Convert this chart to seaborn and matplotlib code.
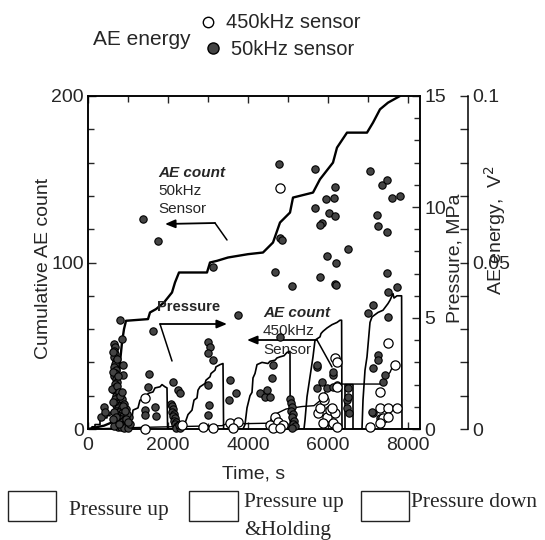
import numpy as np
import pandas as pd
import matplotlib
matplotlib.use("Agg")
import matplotlib.pyplot as plt
from matplotlib.lines import Line2D
from matplotlib.patches import Rectangle
from matplotlib.ticker import MultipleLocator, FixedLocator, FixedFormatter
import seaborn as sns

# ---------------- data ----------------
# Pressure (MPa) vs time (s)
pressure_t = [0, 100, 100, 175, 175, 300, 300, 375, 375, 475, 475, 550, 550, 675, 725,
              975, 1100, 1125, 1250, 1300, 1475, 1500, 1625, 1675, 1800, 1850, 1925, 1975, 1990,
              2375, 2500, 2600, 2650, 2725, 2750, 2800, 2925, 2950, 3050, 3075, 3175, 3200, 3300, 3375, 3390,
              3875, 3925, 3975, 4050, 4100, 4125, 4175, 4225, 4350, 4500, 4550, 4675, 4725, 4800, 4900, 4975, 5050, 5055,
              5400, 5425, 5475, 5550, 5625, 5675, 5800, 5825, 5875, 5975, 6100, 6225, 6300, 6340, 6350,
              6425, 6425, 6625, 6625,
              6850, 6875, 6925, 6975, 7050, 7100, 7250, 7375, 7500, 7550, 7625, 7650, 7725, 7800, 7840, 7850, 8300]
pressure_p = [0, 0, 0.1, 0.1, 0.2, 0.2, 0.4, 0.4, 0.5, 0.5, 0.6, 0.6, 0.75, 0.75, 0,
              0, 0.5, 0.85, 0.95, 1.3, 1.4, 1.6, 1.67, 1.85, 1.9, 2.0, 1.9, 1.85, 0,
              0, 0.65, 0.85, 1.3, 1.4, 1.75, 1.9, 2.05, 2.2, 2.35, 2.5, 2.65, 2.8, 2.9, 2.95, 0,
              0, 0.2, 0.95, 1.5, 1.65, 2.3, 2.5, 2.9, 3.0, 2.95, 3.05, 3.1, 3.2, 3.25, 3.3, 3.45, 3.5, 0,
              0, 0.4, 1.45, 2.35, 3.25, 4.0, 4.15, 4.3, 4.4, 4.55, 4.7, 4.8, 4.9, 4.9, 0,
              0, 2.0, 2.0, 0,
              0, 1.3, 2.65, 3.25, 4.8, 5.05, 5.25, 5.35, 5.65, 5.8, 6.1, 5.9, 6.0, 6.0, 6.0, 0, 0]

# Cumulative AE count, 50 kHz sensor
count50_t = [0, 200, 400, 600, 700, 750, 800, 850, 900, 950, 1500, 1550, 1700, 1900, 2100, 2175, 2225,
             2275, 2975, 3050, 3225, 3500, 4000, 4375, 4625, 4800, 5050, 5125, 5625, 5800, 6125,
             6225, 6475, 6975, 7125, 7300, 7500, 7800]
count50_n = [0, 1, 2, 4, 10, 25, 40, 52, 60, 65, 66, 70, 72, 76, 82, 88, 91,
             94, 94, 100, 101, 103, 105, 106, 112, 124, 130, 139, 142, 150, 160,
             169, 178, 178, 184, 192, 196, 200]

# Cumulative AE count, 450 kHz sensor
count450_t = [0, 1400, 3350, 3450, 4550, 4600, 4950, 5350, 5650, 5800, 5950, 6100, 6350,
              7300, 7400, 7550, 7650, 7750]
count450_n = [0, 1, 2, 3, 3.5, 8, 12, 13.5, 14, 17, 23, 25, 27,
              27, 30, 34, 39.5, 40]

# AE energy (V^2), 50 kHz sensor
e50_t = [4775, 5675, 6175, 5950, 6150, 5675, 6025, 6175, 5850, 5800, 7050, 7350, 7475, 7600, 7800,
         7225, 7250, 7475, 6500, 5975, 6200, 6175, 1375, 1750, 4800, 4850, 3125, 4675, 5800, 5100,
         6200, 7475, 7500, 7725, 7125, 7000, 7500, 3750, 800, 850, 1625, 3000, 3050, 3000, 3125,
         875, 875, 1525, 1500, 1425, 1425, 1675, 1700, 2125, 2250, 2300, 3000, 3025, 3000, 3550,
         3700, 3525, 4625, 4600, 4300, 4425, 4550, 4475, 4800, 5725, 6125, 5725, 5975, 6125, 6225,
         6475, 6475, 7125, 7375, 7425, 7250, 7250, 7125, 7300, 7100, 7300, 400, 325, 425,
         5725, 5850, 6125, 6500, 6500, 6525,
         650, 675, 650, 675, 650, 700, 675, 650, 700, 675, 650, 700, 725, 675, 700, 650, 725, 700,
         750, 675, 725, 775, 700, 800, 750, 825, 700, 775, 850, 725, 800, 875, 750, 825, 900, 700,
         775, 850, 925, 725, 800, 875, 950, 750, 825, 900, 1000, 650,
         625, 725, 625, 750, 600, 725, 625, 775, 650, 850, 900, 950, 1025, 975, 1050, 875, 800, 950,
         925, 1000, 700, 625, 775, 850,
         2075, 2100, 2125, 2100, 2150, 2125, 2175, 2150, 2200, 2175, 2225, 2250, 2200, 2300, 2275,
         5050, 5075, 5100, 5075, 5125, 5100, 5150, 5125, 5175, 5100]
e50_v = [0.0796, 0.0781, 0.0727, 0.0691, 0.0694, 0.0664, 0.0649, 0.0640, 0.0619, 0.0613, 0.0775, 0.0733,
         0.0748, 0.0694, 0.0700, 0.0643, 0.0610, 0.0592, 0.0541, 0.0520, 0.0498, 0.0435, 0.0631, 0.0565,
         0.0574, 0.0568, 0.0486, 0.0471, 0.0456, 0.0429, 0.0432, 0.0468, 0.0411, 0.0426, 0.0372, 0.0348,
         0.0336, 0.0342, 0.0327, 0.0270, 0.0294, 0.0261, 0.0246, 0.0228, 0.0207, 0.0192, 0.0162, 0.0165,
         0.0126, 0.0057, 0.0042, 0.0066, 0.0039, 0.0141, 0.0117, 0.0108, 0.0132, 0.0072, 0.0042, 0.0147,
         0.0108, 0.0087, 0.0192, 0.0153, 0.0108, 0.0096, 0.0096, 0.0117, 0.0276, 0.0186, 0.0162, 0.0123,
         0.0123, 0.0126, 0.0132, 0.0087, 0.0063, 0.0048, 0.0141, 0.0162, 0.0222, 0.0207, 0.0183, 0.0111,
         0.0051, 0.0033, 0.0066, 0.0036, 0.0051,
         0.0192, 0.0141, 0.0171, 0.0123, 0.0096, 0.0048,
         0.0255, 0.0245, 0.0235, 0.0225, 0.0215, 0.0205, 0.0195, 0.0185, 0.0178, 0.0168, 0.0160, 0.0150,
         0.0142, 0.0135, 0.0125, 0.0118, 0.0110, 0.0100, 0.0095, 0.0090, 0.0082, 0.0078, 0.0072, 0.0068,
         0.0062, 0.0060, 0.0055, 0.0050, 0.0048, 0.0042, 0.0040, 0.0038, 0.0032, 0.0030, 0.0028, 0.0025,
         0.0022, 0.0020, 0.0018, 0.0015, 0.0012, 0.0010, 0.0010, 0.0006, 0.0005, 0.0004, 0.0003, 0.0008,
         0.0230, 0.0210, 0.0170, 0.0160, 0.0120, 0.0130, 0.0080, 0.0110, 0.0050, 0.0090, 0.0075, 0.0060,
         0.0035, 0.0045, 0.0015, 0.0070, 0.0100, 0.0030, 0.0055, 0.0020, 0.0035, 0.0030, 0.0015, 0.0110]

e50_v = e50_v + [0.0075, 0.0068, 0.0060, 0.0052, 0.0045, 0.0038, 0.0032, 0.0025, 0.0020, 0.0014, 0.0010,
                 0.0006, 0.0004, 0.0003, 0.0012,
                 0.0090, 0.0078, 0.0066, 0.0055, 0.0045, 0.0035, 0.0025, 0.0015, 0.0008, 0.0004]

# AE energy (V^2), 450 kHz sensor
e450_t = [4800, 1425, 1425, 2350, 3125, 2875, 3550, 3750, 3625, 4550, 4675, 4750, 4875, 4625, 4800,
          5750, 5800, 5975, 6050, 6175, 6125, 6225, 5875, 5900, 6100, 6175, 6225, 6225, 5875,
          7500, 7675, 7300, 7300, 7500, 7725, 7375, 7500, 7050, 7300]
e450_v = [0.0724, 0.0093, 0.0000, 0.0012, 0.0003, 0.0006, 0.0018, 0.0021, 0.0003, 0.0012, 0.0036,
          0.0021, 0.0012, 0.0003, 0.0003, 0.0048, 0.0063, 0.0036, 0.0057, 0.0048, 0.0018, 0.0006,
          0.0018, 0.0087, 0.0063, 0.0213, 0.0201, 0.0126, 0.0096,
          0.0258, 0.0192, 0.0111, 0.0063, 0.0063, 0.0063, 0.0033, 0.0036, 0.0006, 0.0018]

x_ticks = [0, 2000, 4000, 6000, 8000]
count_ticks = [0, 100, 200]
pressure_ticks = [0, 5, 10, 15]
energy_ticks = [0, 0.05, 0.1]
energy_ticklabels = ["0", "0.05", "0.1"]

# ---------------- style ----------------
sns.set_style("ticks")
plt.rcParams["font.family"] = ["Liberation Sans", "DejaVu Sans"]
plt.rcParams["axes.linewidth"] = 1.1

W, H = 545, 540
fig = plt.figure(figsize=(W / 100, H / 100), dpi=100)
L, R, T, B = 88, 420, 96, 429
ax = fig.add_axes([L / W, 1 - B / H, (R - L) / W, (B - T) / H])
ax2 = ax.twinx()
ax3 = ax.twinx()
ax.set_facecolor("white")
ax2.patch.set_visible(False)
ax3.patch.set_visible(False)

df_p = pd.DataFrame({"t": pressure_t, "p": pressure_p})
df_c50 = pd.DataFrame({"t": count50_t, "n": count50_n})
df_c450 = pd.DataFrame({"t": count450_t, "n": count450_n})
df_e50 = pd.DataFrame({"t": e50_t, "e": e50_v})
df_e450 = pd.DataFrame({"t": e450_t, "e": e450_v})

sns.lineplot(data=df_c50, x="t", y="n", ax=ax, color="black", lw=1.7,
             sort=False, estimator=None)
sns.lineplot(data=df_c450, x="t", y="n", ax=ax, color="black", lw=1.0,
             sort=False, estimator=None)
sns.lineplot(data=df_p, x="t", y="p", ax=ax2, color="black", lw=1.2,
             sort=False, estimator=None)
sns.scatterplot(data=df_e50, x="t", y="e", ax=ax3, color="#444444", edgecolor="black",
                linewidth=0.8, s=28, clip_on=False, zorder=3)
sns.scatterplot(data=df_e450, x="t", y="e", ax=ax3, color="white", edgecolor="black",
                linewidth=0.9, s=44, clip_on=False, zorder=4)

# ---------------- axes ----------------
TS = 14
ax.set_xlim(0, 8300)
ax.set_ylim(0, 200)
ax2.set_ylim(0, 15)
ax3.set_ylim(0, 0.1)

ax.xaxis.set_major_locator(FixedLocator(x_ticks))
ax.xaxis.set_minor_locator(MultipleLocator(1000))
ax.yaxis.set_major_locator(FixedLocator(count_ticks))
ax.yaxis.set_minor_locator(MultipleLocator(20))
ax.tick_params(axis="both", which="both", direction="in", top=True, right=False,
               labelsize=TS, pad=3, width=1.0)
ax.tick_params(axis="x", which="major", length=5, pad=6)
ax.tick_params(axis="x", which="minor", length=4)
ax.tick_params(axis="y", which="major", length=6)
ax.tick_params(axis="y", which="minor", length=4)

ax2.yaxis.set_major_locator(FixedLocator(pressure_ticks))
ax2.yaxis.set_minor_locator(MultipleLocator(1))
ax2.tick_params(axis="y", which="both", direction="in", labelsize=TS, pad=3, width=1.0)
ax2.tick_params(axis="y", which="major", length=6)
ax2.tick_params(axis="y", which="minor", length=4)

ax3.spines["right"].set_position(("axes", (468 - L) / (R - L)))
for s in ["left", "top", "bottom"]:
    ax3.spines[s].set_visible(False)
ax3.yaxis.set_major_locator(FixedLocator(energy_ticks))
ax3.yaxis.set_major_formatter(FixedFormatter(energy_ticklabels))
ax3.yaxis.set_minor_locator(MultipleLocator(0.01))
ax3.tick_params(axis="y", which="both", direction="in", labelsize=TS, pad=3, length=6, width=1.0)

for a in (ax, ax2, ax3):
    for s in a.spines.values():
        s.set_color("black")

ax.set_xlabel("Time, s", fontsize=14, labelpad=8)
ax.set_ylabel("Cumulative AE count", fontsize=14)
ax.yaxis.set_label_coords((52 - L) / (R - L), 0.483)
ax2.set_ylabel("Pressure, MPa", fontsize=14)
ax2.yaxis.set_label_coords((446 - L) / (R - L), 0.514)
ax3.set_ylabel("AE energy,  V$^2$", fontsize=14)
ax3.yaxis.set_label_coords((482 - L) / (R - L), 0.598)


def axc(px, py):
    return ((px - L) / (R - L), (B - py) / (B - T))


# ---------------- annotations ----------------
arrow_kw = dict(arrowstyle="-|>,head_length=0.6,head_width=0.25", color="black", lw=1.3,
                shrinkA=0, shrinkB=0)
line_kw = dict(arrowstyle="-", color="black", lw=1.1, shrinkA=0, shrinkB=0)

# AE count 50 kHz
ax.text(*axc(158, 173), "AE count", transform=ax.transAxes, fontsize=11,
        fontweight="bold", fontstyle="italic", ha="left", va="center")
ax.text(*axc(158, 191), "50kHz", transform=ax.transAxes, fontsize=11, ha="left", va="center")
ax.text(*axc(158, 209), "Sensor", transform=ax.transAxes, fontsize=11, ha="left", va="center")
ax.annotate("", xy=axc(165, 224), xytext=axc(215, 223), xycoords="axes fraction",
            textcoords="axes fraction", arrowprops=arrow_kw)
ax.annotate("", xy=axc(215, 223), xytext=axc(227, 240), xycoords="axes fraction",
            textcoords="axes fraction", arrowprops=line_kw)

# Pressure
ax.text(*axc(157, 307), "Pressure", transform=ax.transAxes, fontsize=10.5,
        fontweight="bold", ha="left", va="center")
ax.annotate("", xy=axc(227, 324), xytext=axc(160, 324), xycoords="axes fraction",
            textcoords="axes fraction", arrowprops=arrow_kw)
ax.annotate("", xy=axc(160, 324), xytext=axc(172, 361), xycoords="axes fraction",
            textcoords="axes fraction", arrowprops=line_kw)

# AE count 450 kHz
ax.text(*axc(263, 313), "AE count", transform=ax.transAxes, fontsize=11,
        fontweight="bold", fontstyle="italic", ha="left", va="center", zorder=5)
ax.text(*axc(263, 331), "450kHz", transform=ax.transAxes, fontsize=11, ha="left", va="center")
ax.text(*axc(263, 350), "Sensor", transform=ax.transAxes, fontsize=11, ha="left", va="center")
ax.annotate("", xy=axc(247, 340), xytext=axc(317, 340), xycoords="axes fraction",
            textcoords="axes fraction", arrowprops=arrow_kw)
ax.annotate("", xy=axc(317, 340), xytext=axc(332, 367), xycoords="axes fraction",
            textcoords="axes fraction", arrowprops=line_kw)

# ---------------- top legend ----------------
def fx(px):
    return px / W


def fy(py):
    return 1 - py / H


fig.text(fx(93), fy(45), "AE energy", fontsize=15, ha="left", va="baseline")
fig.add_artist(Line2D([fx(208)], [fy(22)], marker="o", markersize=7.5, color="white",
                      markeredgecolor="black", markeredgewidth=1.0, transform=fig.transFigure))
fig.add_artist(Line2D([fx(213)], [fy(48)], marker="o", markersize=8, color="#444444",
                      markeredgecolor="black", markeredgewidth=1.0, transform=fig.transFigure))
fig.text(fx(226), fy(28), "450kHz sensor", fontsize=14.5, ha="left", va="baseline")
fig.text(fx(231), fy(55), "50kHz sensor", fontsize=14.5, ha="left", va="baseline")

# ---------------- bottom legend ----------------
serif = ["Liberation Serif", "DejaVu Serif"]
for x0, x1 in [(8, 56), (189, 238), (361, 409)]:
    fig.add_artist(Rectangle((fx(x0), fy(521)), (x1 - x0) / W, 30 / H, transform=fig.transFigure,
                             facecolor="white", edgecolor="#222222", lw=1.0))
fig.text(fx(69), fy(515), "Pressure up", fontsize=15.5, family=serif, ha="left", va="baseline")
fig.text(fx(244), fy(507), "Pressure up", fontsize=15.5, family=serif, ha="left", va="baseline")
fig.text(fx(244), fy(535), "&Holding", fontsize=15.5, family=serif, ha="left", va="baseline")
fig.text(fx(411), fy(507), "Pressure down", fontsize=15.5, family=serif, ha="left", va="baseline")

fig.savefig("out.png", dpi=100)
